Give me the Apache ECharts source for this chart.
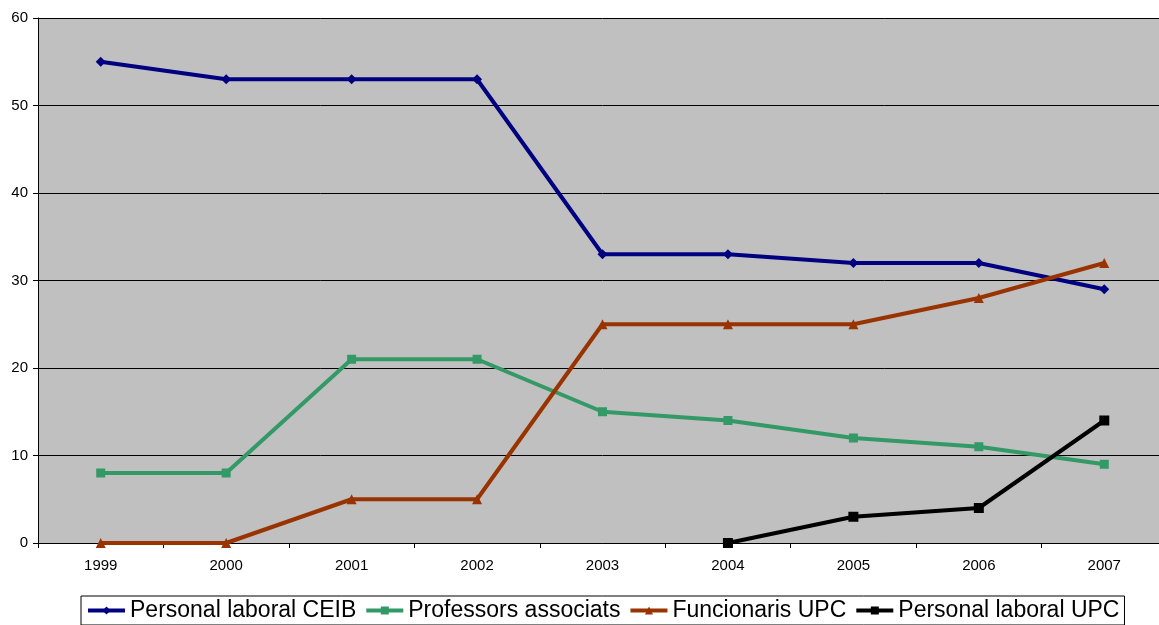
<!DOCTYPE html>
<html><head><meta charset="utf-8">
<script src="https://cdn.jsdelivr.net/npm/echarts@6/dist/echarts.min.js"></script>
<style>html,body{margin:0;padding:0;background:#fff;overflow:hidden;width:1159px;height:625px}#c{width:1168px;height:625px}</style>
</head><body><div id="c"></div>
<script>
const categories = ['1999','2000','2001','2002','2003','2004','2005','2006','2007'];
const ceib = [55,53,53,53,33,33,32,32,29];
const associats = [8,8,21,21,15,14,12,11,9];
const funcionaris = [0,0,5,5,25,25,25,28,32];
const laboralUpc = [null,null,null,null,null,0,3,4,14];
const yTicks = [0,10,20,30,40,50,60];

const chart = echarts.init(document.getElementById('c'), null, {renderer:'canvas'});
const font = 'Liberation Sans, Arial, sans-serif';
function s(name, data, color, symbol, size){
  return {name, type:'line', data, symbol, symbolSize:size, showSymbol:true,
    lineStyle:{color, width:4}, itemStyle:{color}, z:3, animation:false, connectNulls:false};
}
chart.setOption({
  animation:false,
  grid:{left:38, top:18, width:1129, height:525, show:true, backgroundColor:'#c0c0c0', borderWidth:0},
  xAxis:{type:'category', data:categories, boundaryGap:true,
    axisLine:{lineStyle:{color:'#000', width:1}},
    axisTick:{show:true, interval:0, alignWithLabel:false, length:5, lineStyle:{color:'#000'}},
    axisLabel:{color:'#000', fontFamily:font, fontSize:15, margin:15}},
  yAxis:{type:'value', min:yTicks[0], max:yTicks[yTicks.length-1], interval:10,
    axisLine:{show:true, lineStyle:{color:'#000', width:1}},
    axisTick:{show:true, length:5, lineStyle:{color:'#000'}},
    axisLabel:{color:'#000', fontFamily:font, fontSize:15, margin:10},
    splitLine:{show:true, lineStyle:{color:'#000', width:1}}},
  legend:{left:81, top:596, padding:[3,5,3,5], borderColor:'#000', borderWidth:1,
    itemWidth:37, itemHeight:10, itemGap:8, backgroundColor:'#fff',
    lineStyle:{width:4},
    textStyle:{fontFamily:font, fontSize:23, color:'#000'}},
  series:[
    s('Personal laboral CEIB', ceib, '#000080', 'diamond', 10),
    s('Professors associats', associats, '#339966', 'rect', 9),
    s('Funcionaris UPC', funcionaris, '#993300', 'triangle', 10),
    s('Personal laboral UPC', laboralUpc, '#000000', 'rect', 10)
  ]
});
</script></body></html>
